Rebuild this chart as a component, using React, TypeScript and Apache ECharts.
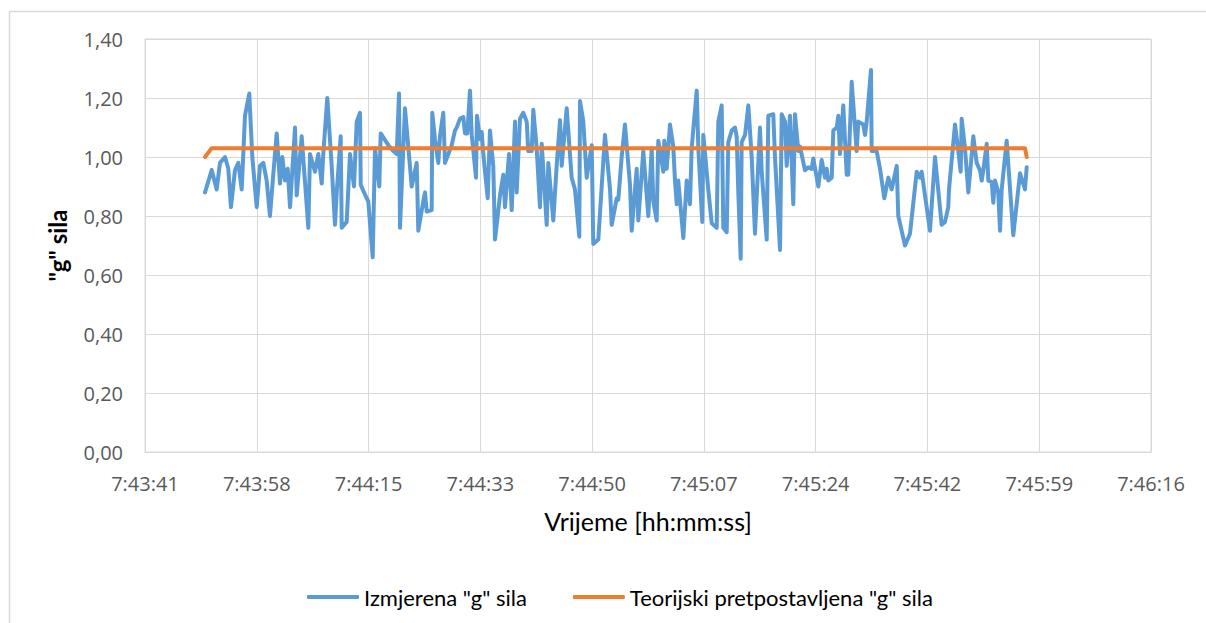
import React, { useEffect, useRef } from "react";
import * as echarts from "echarts";

// Time axis: seconds after 7:43:00
const BASE_SEC = 7 * 3600 + 43 * 60;

const measuredTime = [
  50.08, 51.11, 51.88, 52.39, 53.17, 53.68, 54.09, 54.71, 55.22, 55.75,
  56.26, 56.92, 57.39, 58.07, 58.58, 59.09, 59.61, 60.12, 60.63, 61.16,
  61.67, 62.03, 62.44, 62.86, 63.22, 63.99, 64.25, 64.76, 65.02, 66.05,
  66.31, 67.08, 67.59, 68.12, 68.36, 68.98, 69.66, 70.17, 70.44, 71.05,
  71.21, 71.98, 72.49, 73.11, 73.53, 74.04, 74.15, 75.07, 75.32, 76.0,
  76.36, 77.02, 77.24, 78.41, 79.19, 79.71, 80.07, 80.22, 80.99, 82.03,
  82.8, 83.05, 83.82, 84.09, 84.35, 85.12, 85.21, 85.63, 86.14, 86.4,
  86.91, 87.18, 88.21, 88.72, 88.99, 89.5, 90.01, 90.27, 90.63, 91.04,
  91.31, 91.97, 92.12, 92.59, 92.85, 93.1, 93.78, 94.13, 94.64, 94.91,
  95.68, 96.19, 96.45, 97.07, 97.49, 98.0, 98.26, 98.77, 99.28, 99.81,
  100.05, 100.58, 100.83, 101.35, 101.86, 102.13, 102.9, 103.15, 103.92, 104.44,
  104.96, 105.22, 105.99, 106.76, 107.27, 107.94, 108.05, 108.56, 109.08, 109.86,
  110.1, 110.88, 111.91, 112.69, 112.95, 113.72, 113.97, 114.49, 115.0, 115.78,
  116.04, 116.81, 117.06, 117.83, 118.61, 119.13, 119.38, 119.9, 120.15, 120.93,
  121.08, 121.45, 121.96, 122.47, 122.73, 123.0, 123.24, 124.02, 124.54, 125.05,
  125.31, 126.09, 126.34, 126.95, 127.11, 127.88, 128.41, 129.18, 129.43, 129.95,
  130.2, 130.73, 130.97, 131.5, 132.01, 132.27, 132.52, 132.89, 133.04, 133.56,
  134.07, 134.59, 135.1, 135.87, 136.14, 136.91, 137.16, 137.93, 138.19, 138.97,
  139.23, 139.74, 140.0, 140.51, 141.02, 141.28, 141.8, 142.06, 142.83, 143.34,
  143.86, 144.11, 144.89, 145.41, 145.92, 146.18, 146.43, 146.96, 147.21, 147.73,
  147.98, 148.24, 148.75, 149.28, 149.52, 150.05, 150.82, 151.07, 151.84, 152.11,
  152.37, 153.03, 153.14, 153.91, 154.43, 155.09, 155.71, 156.23, 157.01, 157.25,
  158.29, 159.06, 160.1, 160.61, 160.87, 162.15, 162.93, 163.96, 164.47, 164.98,
  165.09, 166.02, 166.53, 166.9, 167.05, 167.56, 168.08, 168.85, 169.37, 169.88,
  170.15, 170.4, 170.92, 171.17, 171.7, 171.94, 172.2, 172.71, 172.98, 173.24,
  174.01, 175.03, 176.07, 176.84, 177.1,
];

const measuredG = [
  0.88, 0.956, 0.89, 0.98, 1.0, 0.96, 0.83, 0.955, 0.98, 0.89,
  1.14, 1.215, 1.0, 0.83, 0.97, 0.98, 0.92, 0.8, 0.94, 1.08,
  0.91, 1.0, 0.92, 0.96, 0.83, 1.1, 0.87, 1.0, 1.07, 0.76,
  1.01, 0.95, 1.01, 0.91, 1.01, 1.2, 0.97, 0.77, 0.88, 1.07,
  0.76, 0.78, 1.01, 0.9, 1.12, 1.15, 0.905, 0.86, 0.85, 0.66,
  1.03, 0.9, 1.08, 1.04, 1.02, 1.01, 1.215, 0.76, 1.165, 0.9,
  0.98, 0.75, 0.85, 0.88, 0.815, 0.82, 1.15, 1.06, 0.98, 1.07,
  1.15, 0.98, 1.04, 1.09, 1.1, 1.13, 1.135, 1.08, 1.08, 1.225,
  1.075, 0.93, 1.14, 1.06, 1.085, 1.01, 0.86, 1.09, 0.97, 0.72,
  0.87, 0.94, 0.83, 1.01, 0.82, 1.12, 0.88, 1.13, 1.15, 1.12,
  1.02, 1.02, 1.16, 1.03, 0.83, 1.045, 0.77, 0.98, 0.785, 0.97,
  1.125, 0.97, 1.165, 0.93, 0.89, 0.73, 1.19, 1.12, 0.93, 1.04,
  0.705, 0.72, 1.075, 0.89, 0.77, 0.86, 0.855, 1.0, 1.11, 0.905,
  0.75, 0.96, 0.785, 1.02, 0.8, 1.03, 0.85, 0.785, 1.055, 0.95,
  1.055, 0.96, 1.11, 1.035, 0.92, 0.84, 0.92, 0.725, 0.92, 0.84,
  1.03, 1.225, 1.03, 0.78, 1.075, 0.89, 0.775, 0.76, 1.12, 1.175,
  0.76, 0.745, 1.05, 1.09, 1.1, 1.07, 0.88, 0.655, 1.05, 1.075,
  1.175, 1.0, 0.74, 1.1, 0.95, 0.72, 1.14, 1.145, 1.0, 0.685,
  1.145, 1.12, 0.97, 1.14, 0.84, 1.145, 1.02, 1.035, 0.955, 0.965,
  0.96, 0.995, 0.9, 0.99, 0.93, 0.96, 0.92, 0.93, 1.09, 1.1,
  1.14, 1.01, 1.175, 0.94, 0.94, 1.255, 1.02, 1.12, 1.11, 1.075,
  1.12, 1.295, 1.02, 1.02, 0.96, 0.86, 0.93, 0.89, 0.97, 0.8,
  0.7, 0.74, 0.95, 0.93, 0.95, 0.75, 1.0, 0.77, 0.78, 0.83,
  0.89, 1.11, 1.02, 0.95, 1.13, 1.03, 0.88, 1.07, 0.98, 0.955,
  0.92, 0.955, 1.045, 0.92, 0.915, 0.845, 0.92, 0.88, 0.75, 0.89,
  1.055, 0.735, 0.945, 0.89, 0.965,
];

const theoryTime = [50.08, 51.11, 176.84, 177.1];
const theoryG = [1.0, 1.03, 1.03, 1.0];

const seriesNames = ['Izmjerena "g" sila', 'Teorijski pretpostavljena "g" sila'];
const xAxisTitle = "Vrijeme [hh:mm:ss]";
const yAxisTitle = '"g" sila';

// x axis in hundredths of a second (Excel step 0.0002 day = 17.28 s)
const X_MIN = 2782080;
const X_MAX = 2797632;
const X_STEP = 1728;

const toX = (t: number) => (BASE_SEC + t) * 100;

const fmtTime = (v: number) => {
  const s = Math.round(v / 100);
  const h = Math.floor(s / 3600);
  const m = Math.floor((s % 3600) / 60);
  const sec = s % 60;
  return `${h}:${String(m).padStart(2, "0")}:${String(sec).padStart(2, "0")}`;
};

const TITLE_FONT = "Lato, 'Noto Sans', sans-serif";
const TICK_FONT = "'Open Sans', 'Noto Sans', sans-serif";

export default function App() {
  const ref = useRef<HTMLDivElement>(null);
  useEffect(() => {
    if (!ref.current) return;
    const chart = echarts.init(ref.current, undefined, { renderer: "svg" });
    chart.setOption({
      animation: false,
      backgroundColor: "#ffffff",
      graphic: [
        {
          type: "rect",
          left: 7,
          top: 9,
          shape: { x: 0, y: 0, width: 1210, height: 630 },
          style: { fill: "none", stroke: "#d9d9d9", lineWidth: 1.5 },
          silent: true,
        },
      ],
      grid: {
        left: 145,
        top: 39,
        width: 1006,
        height: 413,
        show: true,
        borderColor: "#d9d9d9",
        borderWidth: 1,
        containLabel: false,
      },
      legend: {
        left: 302,
        top: 581,
        icon: "roundRect",
        itemWidth: 52,
        itemHeight: 4,
        itemGap: 46,
        textStyle: { fontSize: 22, color: "#000000", fontFamily: TITLE_FONT },
        data: seriesNames,
      },
      xAxis: {
        type: "value",
        min: X_MIN,
        max: X_MAX,
        interval: X_STEP,
        name: xAxisTitle,
        nameLocation: "middle",
        nameGap: 56,
        nameTextStyle: { fontSize: 25, color: "#000000", fontFamily: TITLE_FONT },
        axisLine: { show: true, lineStyle: { color: "#d9d9d9", width: 1 } },
        axisTick: { show: false },
        splitLine: { show: true, lineStyle: { color: "#d9d9d9", width: 1 } },
        axisLabel: {
          formatter: fmtTime,
          fontSize: 20,
          color: "#595959",
          fontFamily: TICK_FONT,
          margin: 21,
          showMinLabel: true,
          showMaxLabel: true,
        },
      },
      yAxis: {
        type: "value",
        min: 0,
        max: 1.4,
        interval: 0.2,
        name: yAxisTitle,
        nameLocation: "middle",
        nameGap: 76,
        nameRotate: 90,
        nameTextStyle: { fontSize: 24, color: "#000000", fontFamily: TITLE_FONT, fontWeight: "bold" },
        axisLine: { show: false },
        axisTick: { show: false },
        splitLine: { show: true, lineStyle: { color: "#d9d9d9", width: 1 } },
        axisLabel: {
          formatter: (v: number) => v.toFixed(2).replace(".", ","),
          fontSize: 20,
          color: "#595959",
          fontFamily: TICK_FONT,
          margin: 22,
        },
      },
      series: [
        {
          name: seriesNames[0],
          type: "line",
          data: measuredTime.map((t, i) => [toX(t), measuredG[i]]),
          showSymbol: false,
          symbol: "none",
          lineStyle: { color: "#5b9bd5", width: 4, join: "round", cap: "round" },
          itemStyle: { color: "#5b9bd5" },
        },
        {
          name: seriesNames[1],
          type: "line",
          data: theoryTime.map((t, i) => [toX(t), theoryG[i]]),
          showSymbol: false,
          symbol: "none",
          lineStyle: { color: "#ed7d31", width: 4, join: "round", cap: "round" },
          itemStyle: { color: "#ed7d31" },
        },
      ],
    });
    return () => chart.dispose();
  }, []);
  return (
    <div
      ref={ref}
      style={{ position: "absolute", left: 0, top: 0, width: 1206, height: 623 }}
    />
  );
}
